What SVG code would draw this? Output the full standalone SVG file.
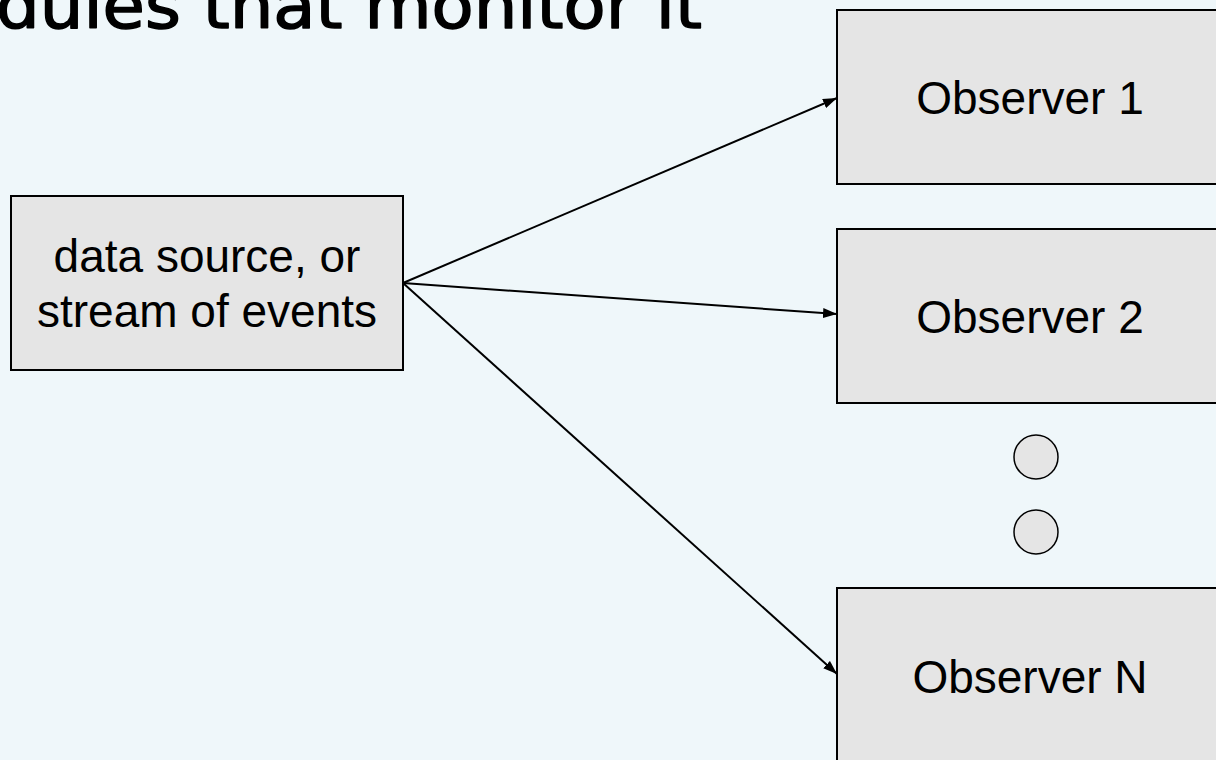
<svg xmlns="http://www.w3.org/2000/svg" width="1216" height="760" viewBox="0 0 1216 760">
  <style>
    .box { fill: #E5E5E5; stroke: #000; stroke-width: 2; }
    .dot { fill: #E5E5E5; stroke: #000; stroke-width: 1.5; }
    .lbl { font-family: "Liberation Sans", Arial, sans-serif; font-size: 46px; fill: #000; text-anchor: middle; }
    .title { font-family: "DejaVu Sans", sans-serif; font-size: 64px; fill: #000; stroke: #000; stroke-width: 1.5; stroke-linejoin: round; }
    .conn { stroke: #000; stroke-width: 2; fill: none; marker-end: url(#arrow); }
  </style>
  <defs>
    <marker id="arrow" viewBox="0 0 14 10" refX="14" refY="5" markerWidth="14" markerHeight="10" markerUnits="userSpaceOnUse" orient="auto">
      <path d="M0,0 L14,5 L0,10 Z" fill="#000"/>
    </marker>
  </defs>
  <rect width="1216" height="760" fill="#EFF7FA"/>
  <text class="title" x="-4" y="28" textLength="706" lengthAdjust="spacingAndGlyphs">dules that monitor it</text>
  <g id="source">
    <rect class="box" x="11" y="196" width="392" height="174"/>
    <text class="lbl" x="207" y="272">data source, or</text>
    <text class="lbl" x="207" y="327">stream of events</text>
  </g>
  <g id="observer1">
    <rect class="box" x="837" y="10" width="400" height="174"/>
    <text class="lbl" x="1030" y="114">Observer 1</text>
  </g>
  <g id="observer2">
    <rect class="box" x="837" y="229" width="400" height="174"/>
    <text class="lbl" x="1030" y="333">Observer 2</text>
  </g>
  <g id="ellipsis">
    <circle class="dot" cx="1036" cy="457" r="22"/>
    <circle class="dot" cx="1036" cy="532" r="22"/>
  </g>
  <g id="observerN">
    <rect class="box" x="837" y="588" width="400" height="174"/>
    <text class="lbl" x="1030" y="693">Observer N</text>
  </g>
  <g id="connectors">
    <line class="conn" x1="403" y1="283" x2="837" y2="98"/>
    <line class="conn" x1="403" y1="283" x2="837" y2="314"/>
    <line class="conn" x1="403" y1="283" x2="837" y2="674"/>
  </g>
</svg>
